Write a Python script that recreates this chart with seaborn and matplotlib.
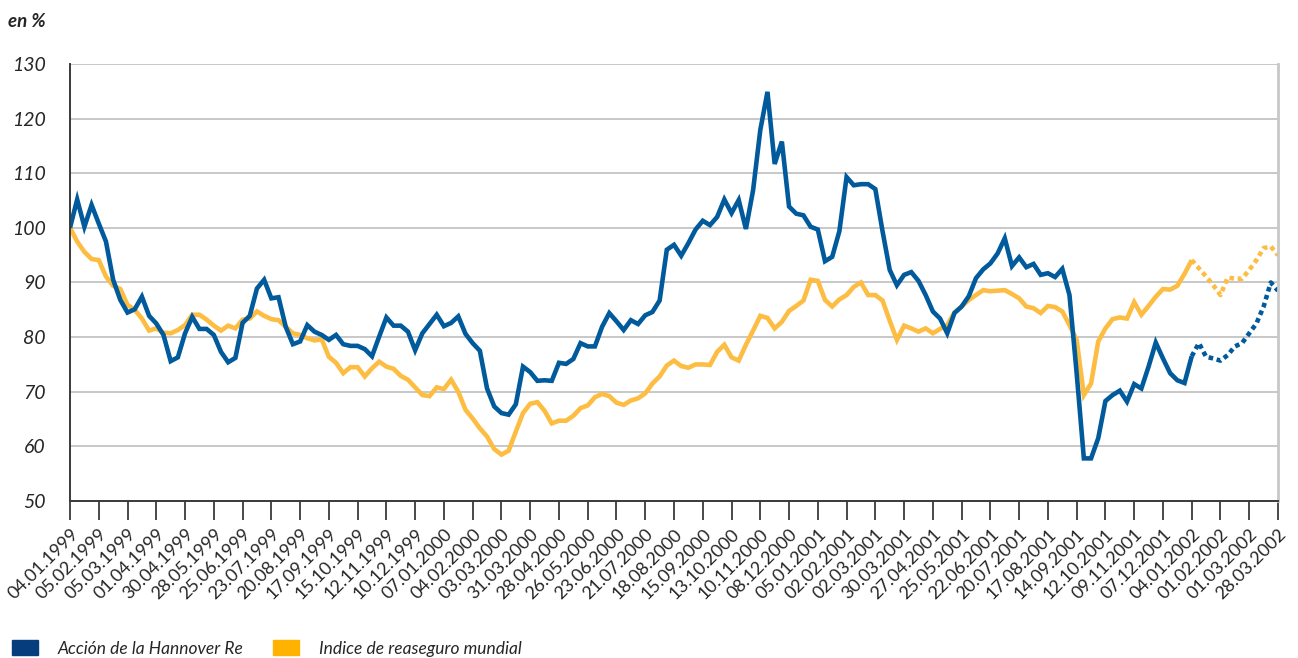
import numpy as np
import pandas as pd
import matplotlib.pyplot as plt
from matplotlib.patches import Patch
import seaborn as sns

# fechas de las marcas del eje x (cada 4 semanas)
fechas = ["04.01.1999", "05.02.1999", "05.03.1999", "01.04.1999", "30.04.1999",
          "28.05.1999", "25.06.1999", "23.07.1999", "20.08.1999", "17.09.1999",
          "15.10.1999", "12.11.1999", "10.12.1999", "07.01.2000", "04.02.2000",
          "03.03.2000", "31.03.2000", "28.04.2000", "26.05.2000", "23.06.2000",
          "21.07.2000", "18.08.2000", "15.09.2000", "13.10.2000", "10.11.2000",
          "08.12.2000", "05.01.2001", "02.02.2001", "02.03.2001", "30.03.2001",
          "27.04.2001", "25.05.2001", "22.06.2001", "20.07.2001", "17.08.2001",
          "14.09.2001", "12.10.2001", "09.11.2001", "07.12.2001", "04.01.2002",
          "01.02.2002", "01.03.2002", "28.03.2002"]

# valores semanales (base 100 = 04.01.1999)
hannover = [100, 105.2, 100.2, 104.2, 100.8, 97.5, 90.5, 86.8, 84.5, 85.1,
            87.4, 83.9, 82.5, 80.4, 75.6, 76.3, 80.7, 83.7, 81.5, 81.5,
            80.4, 77.3, 75.4, 76.2, 82.6, 83.9, 88.9, 90.5, 87.1, 87.3,
            81.9, 78.7, 79.2, 82.2, 81.0, 80.4, 79.5, 80.4, 78.7, 78.4,
            78.4, 77.8, 76.5, 80.1, 83.6, 82.1, 82.1, 81.0, 77.6, 80.7,
            82.4, 84.1, 82.0, 82.6, 83.8, 80.6, 78.9, 77.5, 70.6, 67.3,
            66.1, 65.8, 67.7, 74.6, 73.6, 72.0, 72.1, 72.0, 75.3, 75.1,
            76.0, 78.9, 78.3, 78.3, 81.9, 84.4, 82.9, 81.3, 83.1, 82.4,
            84.0, 84.6, 86.7, 96.0, 96.9, 94.9, 97.2, 99.7, 101.3, 100.5,
            102.0, 105.2, 102.7, 105.1, 99.8, 106.9, 117.9, 124.9, 111.7, 115.8,
            103.9, 102.6, 102.3, 100.2, 99.7, 93.9, 94.7, 99.4, 109.3, 107.8,
            108.0, 108.0, 107.1, 99.4, 92.3, 89.5, 91.4, 91.9, 90.3, 87.7,
            84.7, 83.4, 80.7, 84.4, 85.6, 87.5, 90.8, 92.4, 93.5, 95.3,
            98.1, 93.0, 94.6, 92.8, 93.4, 91.4, 91.7, 91.0, 92.5, 87.7,
            73.4, 57.8, 57.8, 61.5, 68.3, 69.4, 70.2, 68.2, 71.4, 70.6,
            74.6, 79.0, 76.1, 73.4, 72.1, 71.6, 76.5, 78.9, 76.4, 76.1,
            75.7, 76.7, 78.3, 78.9, 80.7, 82.5, 85.6, 90.0, 88.5]

indice = [100, 97.5, 95.6, 94.3, 94.1, 91.1, 89.4, 88.8, 85.9, 85.0,
          83.4, 81.2, 81.6, 80.8, 80.7, 81.3, 82.2, 84.1, 84.1, 83.2,
          82.1, 81.2, 82.1, 81.6, 83.2, 83.4, 84.7, 83.9, 83.3, 83.1,
          81.9, 80.7, 80.4, 79.8, 79.4, 79.6, 76.4, 75.3, 73.4, 74.5,
          74.5, 72.8, 74.3, 75.5, 74.6, 74.2, 72.9, 72.2, 70.8, 69.4,
          69.2, 70.8, 70.5, 72.2, 70.0, 66.7, 65.1, 63.3, 61.8, 59.5,
          58.5, 59.2, 62.7, 66.1, 67.8, 68.1, 66.5, 64.2, 64.7, 64.7,
          65.6, 67.0, 67.5, 69.0, 69.6, 69.2, 68.0, 67.6, 68.4, 68.8,
          69.7, 71.5, 72.8, 74.8, 75.7, 74.7, 74.4, 75.0, 75.0, 74.9,
          77.3, 78.6, 76.3, 75.7, 78.6, 81.2, 83.9, 83.5, 81.6, 82.8,
          84.8, 85.7, 86.7, 90.5, 90.3, 86.8, 85.6, 86.9, 87.7, 89.2,
          90.0, 87.7, 87.7, 86.7, 83.0, 79.5, 82.1, 81.6, 81.0, 81.6,
          80.7, 81.5, 82.2, 84.5, 85.6, 86.8, 87.7, 88.6, 88.4, 88.5,
          88.6, 87.9, 87.1, 85.6, 85.3, 84.4, 85.7, 85.5, 84.7, 82.2,
          79.5, 69.4, 71.5, 79.2, 81.6, 83.3, 83.6, 83.4, 86.4, 84.1,
          85.7, 87.4, 88.8, 88.7, 89.4, 91.6, 94.1, 92.6, 91.1, 89.5,
          87.7, 90.9, 90.7, 90.7, 92.3, 94.1, 96.3, 96.6, 95.0]

corte = 156  # a partir de 04.01.2002 la linea va punteada

azul = "#005a9c"
naranja = "#fdbd43"

sns.set_style("white")
plt.rcParams["font.family"] = ["Lato", "DejaVu Sans"]

df = pd.DataFrame({"semana": np.arange(len(hannover)),
                   "Hannover": hannover, "Indice": indice})
real = df[df.semana <= corte]
prev = df[df.semana >= corte]

fig = plt.figure(figsize=(12.98, 6.58), dpi=100)
ax = fig.add_axes([70 / 1298, 1 - 501 / 658, 1208 / 1298, 437 / 658])

for col, c in [("Indice", naranja), ("Hannover", azul)]:
    sns.lineplot(data=real, x="semana", y=col, color=c, lw=3.3, ax=ax,
                 solid_joinstyle="miter", solid_capstyle="butt")
    sns.lineplot(data=prev, x="semana", y=col, color=c, lw=3.3, ax=ax,
                 linestyle=(0, (1, 0.8)), dash_capstyle="butt")

ax.set_xlim(0, 168)
ax.set_ylim(50, 130)
ax.set_yticks(range(50, 131, 10))
ax.set_xticks(range(0, 169, 4))
ax.set_xticklabels(fechas, rotation=45, ha="right", va="top",
                   rotation_mode="anchor", fontsize=13)
ax.set_yticklabels([str(v) for v in range(50, 131, 10)],
                   fontsize=14, style="italic")
ax.set_xlabel("")
ax.set_ylabel("")

ax.yaxis.grid(True, color="#c8c8c8", lw=1.4)
ax.set_axisbelow(True)
ax.tick_params(axis="y", length=9.5, width=1.4, color="#c8c8c8", pad=8)
ax.tick_params(axis="x", length=14, width=1.3, color="#3a3a3a", pad=4,
               bottom=True)
for s in ["left", "bottom"]:
    ax.spines[s].set_color("#3a3a3a")
    ax.spines[s].set_linewidth(1.4)
ax.spines["top"].set_visible(False)
ax.spines["right"].set_color("#c8c8c8")
ax.spines["right"].set_linewidth(2)

fig.text(8 / 1298, 1 - 27 / 658, "en %", fontsize=13.5, style="italic",
         weight="bold", va="baseline", ha="left")

handles = [Patch(color="#063d7c"), Patch(color="#ffb300")]
fig.legend(handles, ["Acción de la Hannover Re", "Indice de reaseguro mundial"],
           loc="lower left", bbox_to_anchor=(12 / 1298, 0.002), ncol=2,
           frameon=False, prop={"size": 12.5, "style": "italic"},
           handlelength=1.5, handleheight=0.95, handletextpad=1.1,
           columnspacing=1.75, borderpad=0, borderaxespad=0)

fig.savefig("out.png", dpi=100)
